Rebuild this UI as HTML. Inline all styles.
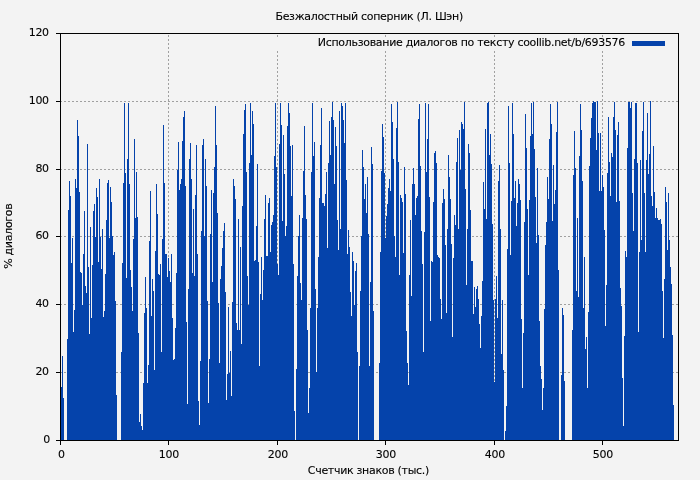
<!DOCTYPE html>
<html lang="ru"><head><meta charset="utf-8"><title>Безжалостный соперник (Л. Шэн)</title>
<style>html,body{margin:0;padding:0;background:#f3f3f3}body{width:700px;height:480px;overflow:hidden}svg{display:block}text{font-family:"DejaVu Sans","Liberation Sans",sans-serif;font-size:11px;fill:#000;letter-spacing:-0.3px;stroke:#000;stroke-width:0.1px}</style></head><body>
<svg width="700" height="480" viewBox="0 0 700 480">
<rect width="700" height="480" fill="#f3f3f3"/>
<g stroke="#a0a0a0" stroke-width="1" stroke-dasharray="2,2" fill="none" shape-rendering="crispEdges">
<path d="M60 372.5H678"/>
<path d="M60 304.5H678"/>
<path d="M60 236.5H678"/>
<path d="M60 169.5H678"/>
<path d="M60 101.5H678"/>
<path d="M168.5 35V440"/>
<path d="M277.5 35V37M277.5 51V440"/>
<path d="M385.5 35V37M385.5 51V440"/>
<path d="M494.5 35V37M494.5 51V440"/>
<path d="M602.5 35V37M602.5 51V440"/>
</g>
<g fill="#0543ab" shape-rendering="crispEdges">
<path d="M61 386.9V440h1V386.9zM62 356V440h1V356zM63 397.7V440h1V397.7zM67 338.8V440h1V338.8zM68 210.1V440h1V210.1zM69 180.9V440h1V180.9zM70 196.2V440h1V196.2zM71 262.9V440h1V262.9zM72 238V440h1V238zM73 331.6V440h1V331.6zM74 310V440h1V310zM75 178.9V440h1V178.9zM76 188.1V440h1V188.1zM77 119.8V440h1V119.8zM78 136.1V440h1V136.1zM79 192.1V440h1V192.1zM80 271.9V440h1V271.9zM81 273.1V440h1V273.1zM82 305V440h1V305zM83 254V440h1V254zM84 211V440h1V211zM85 286.3V440h1V286.3zM86 292.8V440h1V292.8zM87 144V440h1V144zM88 266.9V440h1V266.9zM89 333.7V440h1V333.7zM90 226.9V440h1V226.9zM91 317.6V440h1V317.6zM92 264.7V440h1V264.7zM93 211V440h1V211zM94 204.1V440h1V204.1zM95 237V440h1V237zM96 188V440h1V188zM97 197.2V440h1V197.2zM98 261.9V440h1V261.9zM99 179.1V440h1V179.1zM100 236.7V440h1V236.7zM101 269V440h1V269zM102 229.1V440h1V229.1zM103 316.5V440h1V316.5zM104 310.7V440h1V310.7zM105 274.1V440h1V274.1zM106 220V440h1V220zM107 182.9V440h1V182.9zM108 180.1V440h1V180.1zM109 238.4V440h1V238.4zM110 187V440h1V187zM111 201.9V440h1V201.9zM112 236V440h1V236zM113 254.5V440h1V254.5zM114 251.9V440h1V251.9zM115 300.7V440h1V300.7zM116 394.8V440h1V394.8zM121 351.7V440h1V351.7zM122 262.9V440h1V262.9zM123 182.9V440h1V182.9zM124 103V440h1V103zM125 173V440h1V173zM126 277.7V440h1V277.7zM127 159.1V440h1V159.1z"/>
<path d="M128 103V440h1V103zM129 184.2V440h1V184.2zM130 270.1V440h1V270.1zM131 287V440h1V287zM132 310.7V440h1V310.7zM133 238.9V440h1V238.9zM134 138.9V440h1V138.9zM135 217.9V440h1V217.9zM136 172V440h1V172zM137 217V440h1V217zM138 333V440h1V333zM139 422.1V440h1V422.1zM140 414.2V440h1V414.2zM141 426.4V440h1V426.4zM142 430V440h1V430zM143 383.3V440h1V383.3zM144 312.9V440h1V312.9zM145 276.9V440h1V276.9zM146 307.9V440h1V307.9zM147 382.6V440h1V382.6zM148 364.6V440h1V364.6zM149 241V440h1V241zM150 191V440h1V191zM151 315.8V440h1V315.8zM152 279.1V440h1V279.1zM153 290.6V440h1V290.6zM154 370.4V440h1V370.4zM155 251.1V440h1V251.1zM156 184V440h1V184zM157 214V440h1V214zM158 274.1V440h1V274.1zM159 274.8V440h1V274.8zM160 264V440h1V264zM161 351.7V440h1V351.7zM162 238.9V440h1V238.9zM163 125V440h1V125zM164 182.8V440h1V182.8zM165 254V440h1V254zM166 254V440h1V254zM167 276.9V440h1V276.9zM168 257.6V440h1V257.6zM169 270.5V440h1V270.5zM170 282V440h1V282zM171 254V440h1V254zM172 317.9V440h1V317.9zM173 360.3V440h1V360.3zM174 358.9V440h1V358.9zM175 327.7V440h1V327.7zM176 273.1V440h1V273.1zM177 169.9V440h1V169.9zM178 142V440h1V142zM179 190V440h1V190zM180 184.2V440h1V184.2zM181 179.2V440h1V179.2zM182 140.8V440h1V140.8zM183 117V440h1V117zM184 110.9V440h1V110.9zM185 186V440h1V186zM186 322V440h1V322zM187 403.9V440h1V403.9z"/>
<path d="M188 289.2V440h1V289.2zM189 159.1V440h1V159.1zM190 143V440h1V143zM191 179.2V440h1V179.2zM192 273.1V440h1V273.1zM193 209V440h1V209zM194 275.9V440h1V275.9zM195 195V440h1V195zM196 144.7V440h1V144.7zM197 254V440h1V254zM198 400.9V440h1V400.9zM199 424.6V440h1V424.6zM200 360.7V440h1V360.7zM201 230.9V440h1V230.9zM202 145V440h1V145zM203 138.9V440h1V138.9zM204 236V440h1V236zM205 159.1V440h1V159.1zM206 186V440h1V186zM207 300.7V440h1V300.7zM208 402.7V440h1V402.7zM209 358.9V440h1V358.9zM210 233.8V440h1V233.8zM211 190V440h1V190zM212 282V440h1V282zM213 193.1V440h1V193.1zM214 167V440h1V167zM215 105.9V440h1V105.9zM216 145V440h1V145zM217 213V440h1V213zM218 302.8V440h1V302.8zM219 362.8V440h1V362.8zM220 278.8V440h1V278.8zM221 265.5V440h1V265.5zM222 248.2V440h1V248.2zM223 230.9V440h1V230.9zM224 223V440h1V223zM225 292V440h1V292zM226 399.9V440h1V399.9zM227 374V440h1V374zM228 307.2V440h1V307.2zM229 372.5V440h1V372.5zM230 351V440h1V351zM231 395.6V440h1V395.6zM232 302.1V440h1V302.1zM233 179.2V440h1V179.2zM234 186V440h1V186zM235 198.9V440h1V198.9zM236 323V440h1V323zM237 329.7V440h1V329.7zM238 219V440h1V219zM239 329.7V440h1V329.7zM240 247.2V440h1V247.2zM241 343.8V440h1V343.8zM242 205.8V440h1V205.8zM243 133.9V440h1V133.9zM244 110.2V440h1V110.2zM245 104V440h1V104zM246 172V440h1V172zM247 275.9V440h1V275.9z"/>
<path d="M248 305V440h1V305zM249 162.9V440h1V162.9zM250 103V440h1V103zM251 154.8V440h1V154.8zM252 110.9V440h1V110.9zM253 124.1V440h1V124.1zM254 260.7V440h1V260.7zM255 259.7V440h1V259.7zM256 225.9V440h1V225.9zM257 164.1V440h1V164.1zM258 261.9V440h1V261.9zM259 365.6V440h1V365.6zM260 293.9V440h1V293.9zM261 256.8V440h1V256.8zM262 299.9V440h1V299.9zM263 269.8V440h1V269.8zM264 219V440h1V219zM265 195V440h1V195zM266 256.1V440h1V256.1zM267 256.1V440h1V256.1zM268 202.9V440h1V202.9zM269 197.9V440h1V197.9zM270 251.8V440h1V251.8zM271 224.9V440h1V224.9zM272 222V440h1V222zM273 215.1V440h1V215.1zM274 155.9V440h1V155.9zM275 103V440h1V103zM276 167V440h1V167zM277 264V440h1V264zM278 274.8V440h1V274.8zM279 144V440h1V144zM280 103V440h1V103zM281 125V440h1V125zM282 220.9V440h1V220.9zM283 135.1V440h1V135.1zM284 174.2V440h1V174.2zM285 236V440h1V236zM286 225.9V440h1V225.9zM287 126V440h1V126zM288 103V440h1V103zM289 113.1V440h1V113.1zM290 146.1V440h1V146.1zM291 196V440h1V196zM292 145V440h1V145zM293 264V440h1V264zM294 411.1V440h1V411.1zM296 368.9V440h1V368.9zM297 275.9V440h1V275.9zM298 236V440h1V236zM299 215.1V440h1V215.1zM300 282.7V440h1V282.7zM301 299.9V440h1V299.9zM302 218V440h1V218zM303 171.3V440h1V171.3zM304 126V440h1V126zM305 195V440h1V195zM306 219V440h1V219zM307 329.7V440h1V329.7zM308 412.8V440h1V412.8z"/>
<path d="M309 388.4V440h1V388.4zM310 307.9V440h1V307.9zM311 172V440h1V172zM312 103V440h1V103zM313 155.9V440h1V155.9zM314 142V440h1V142zM315 288.9V440h1V288.9zM316 371.8V440h1V371.8zM317 307.9V440h1V307.9zM318 256.8V440h1V256.8zM319 197.9V440h1V197.9zM320 145V440h1V145zM321 108.1V440h1V108.1zM322 202.9V440h1V202.9zM323 202.9V440h1V202.9zM324 205.8V440h1V205.8zM325 194V440h1V194zM326 172V440h1V172zM327 247.9V440h1V247.9zM328 162.9V440h1V162.9zM329 121V440h1V121zM330 155V440h1V155zM331 117V440h1V117zM332 102V440h1V102zM333 120V440h1V120zM334 184V440h1V184zM335 127V440h1V127zM336 146.1V440h1V146.1zM337 220V440h1V220zM338 249.9V440h1V249.9zM339 110.9V440h1V110.9zM340 228.8V440h1V228.8zM341 103V440h1V103zM342 105.9V440h1V105.9zM343 120V440h1V120zM344 143V440h1V143zM345 103V440h1V103zM346 179.9V440h1V179.9zM347 254V440h1V254zM348 229.9V440h1V229.9zM349 246.8V440h1V246.8zM350 292V440h1V292zM351 315.8V440h1V315.8zM352 251.8V440h1V251.8zM353 261.1V440h1V261.1zM354 305V440h1V305zM355 270.9V440h1V270.9zM356 263V440h1V263zM357 351.7V440h1V351.7zM359 366V440h1V366zM360 290.6V440h1V290.6zM361 236V440h1V236zM362 150V440h1V150zM363 166.7V440h1V166.7zM364 198.9V440h1V198.9zM365 184V440h1V184zM366 213V440h1V213zM367 177.1V440h1V177.1zM368 233.8V440h1V233.8zM369 366.1V440h1V366.1z"/>
<path d="M370 282V440h1V282zM371 147V440h1V147zM372 164.1V440h1V164.1zM373 310.7V440h1V310.7zM379 362.5V440h1V362.5zM380 251.8V440h1V251.8zM381 171V440h1V171zM382 124V440h1V124zM383 136.8V440h1V136.8zM384 173V440h1V173zM385 237.7V440h1V237.7zM386 215.9V440h1V215.9zM387 204.1V440h1V204.1zM388 188V440h1V188zM389 178.9V440h1V178.9zM390 191V440h1V191zM391 104V440h1V104zM392 122V440h1V122zM393 159.1V440h1V159.1zM394 236V440h1V236zM395 256.8V440h1V256.8zM396 127.9V440h1V127.9zM397 102V440h1V102zM398 161.9V440h1V161.9zM399 274.8V440h1V274.8zM400 195V440h1V195zM401 197.9V440h1V197.9zM402 201.9V440h1V201.9zM403 253V440h1V253zM404 167V440h1V167zM405 194V440h1V194zM406 330.9V440h1V330.9zM407 363.2V440h1V363.2zM408 384.8V440h1V384.8zM409 274.8V440h1V274.8zM410 220V440h1V220zM411 295.6V440h1V295.6zM412 184V440h1V184zM413 168V440h1V168zM414 184V440h1V184zM415 215.1V440h1V215.1zM416 197.9V440h1V197.9zM417 196V440h1V196zM418 119V440h1V119zM419 104V440h1V104zM420 166V440h1V166zM421 230.9V440h1V230.9zM422 264V440h1V264zM423 351.7V440h1V351.7zM424 231.9V440h1V231.9zM425 103V440h1V103zM426 172V440h1V172zM427 138.9V440h1V138.9zM428 104V440h1V104zM429 196.9V440h1V196.9zM430 320.8V440h1V320.8zM431 261.1V440h1V261.1zM432 261.9V440h1V261.9zM433 201.9V440h1V201.9zM434 153V440h1V153z"/>
<path d="M435 151V440h1V151zM436 162.9V440h1V162.9zM437 254.7V440h1V254.7zM438 256.8V440h1V256.8zM439 257.6V440h1V257.6zM440 299.2V440h1V299.2zM441 318.9V440h1V318.9zM442 202.9V440h1V202.9zM443 189V440h1V189zM444 198.9V440h1V198.9zM445 244.9V440h1V244.9zM446 312.9V440h1V312.9zM447 229.1V440h1V229.1zM448 155V440h1V155zM449 177.1V440h1V177.1zM450 198.9V440h1V198.9zM451 243.9V440h1V243.9zM452 336.9V440h1V336.9zM453 257.6V440h1V257.6zM454 215.1V440h1V215.1zM455 224.9V440h1V224.9zM456 161.9V440h1V161.9zM457 137.9V440h1V137.9zM458 229.1V440h1V229.1zM459 129.9V440h1V129.9zM460 170V440h1V170zM461 122V440h1V122zM462 124V440h1V124zM463 128.9V440h1V128.9zM464 102V440h1V102zM465 189V440h1V189zM466 284.9V440h1V284.9zM467 229.1V440h1V229.1zM468 144V440h1V144zM469 153V440h1V153zM470 210V440h1V210zM471 260.7V440h1V260.7zM472 260.7V440h1V260.7zM473 313.9V440h1V313.9zM474 287V440h1V287zM475 306.7V440h1V306.7zM476 289.2V440h1V289.2zM477 286V440h1V286zM478 298.5V440h1V298.5zM479 324.4V440h1V324.4zM480 347.8V440h1V347.8zM481 315.8V440h1V315.8zM482 281V440h1V281zM483 181.9V440h1V181.9zM484 209V440h1V209zM485 128.9V440h1V128.9zM486 219V440h1V219zM487 103V440h1V103zM488 102V440h1V102zM489 155V440h1V155zM490 133.9V440h1V133.9zM491 164.1V440h1V164.1zM492 224V440h1V224zM493 299.9V440h1V299.9zM494 381.9V440h1V381.9z"/>
<path d="M495 299.2V440h1V299.2zM496 275.9V440h1V275.9zM497 317.9V440h1V317.9zM498 180.9V440h1V180.9zM499 164.8V440h1V164.8zM500 229.1V440h1V229.1zM501 353.9V440h1V353.9zM502 299.9V440h1V299.9zM503 369.7V440h1V369.7zM505 430.8V440h1V430.8zM506 405.9V440h1V405.9zM507 248.9V440h1V248.9zM508 105.9V440h1V105.9zM509 162.9V440h1V162.9zM510 254.7V440h1V254.7zM511 200.9V440h1V200.9zM512 103V440h1V103zM513 133.9V440h1V133.9zM514 197.9V440h1V197.9zM515 180.9V440h1V180.9zM516 225.9V440h1V225.9zM517 202.9V440h1V202.9zM518 178.9V440h1V178.9zM519 184V440h1V184zM520 199.9V440h1V199.9zM521 319.4V440h1V319.4zM522 387.9V440h1V387.9zM523 333V440h1V333zM524 222V440h1V222zM525 113.8V440h1V113.8zM526 148V440h1V148zM527 209V440h1V209zM528 274.8V440h1V274.8zM529 199.9V440h1V199.9zM530 136.1V440h1V136.1zM531 103V440h1V103zM532 133.9V440h1V133.9zM533 102V440h1V102zM534 149V440h1V149zM535 196.9V440h1V196.9zM536 242.9V440h1V242.9zM537 168V440h1V168zM538 235V440h1V235zM539 320.8V440h1V320.8zM540 366.1V440h1V366.1zM541 379V440h1V379zM542 409.9V440h1V409.9zM543 388.4V440h1V388.4zM544 308.6V440h1V308.6zM545 244.9V440h1V244.9zM546 222V440h1V222zM547 177.1V440h1V177.1zM548 198.9V440h1V198.9zM549 138.9V440h1V138.9zM550 104V440h1V104zM551 124V440h1V124zM552 221V440h1V221zM553 164.8V440h1V164.8zM554 204.1V440h1V204.1zM555 190V440h1V190z"/>
<path d="M556 131.9V440h1V131.9zM557 102V440h1V102zM558 270V440h1V270zM561 374.7V440h1V374.7zM562 307.9V440h1V307.9zM563 315.1V440h1V315.1zM564 380.5V440h1V380.5zM572 329.7V440h1V329.7zM573 174.9V440h1V174.9zM574 130.9V440h1V130.9zM575 168V440h1V168zM576 290.6V440h1V290.6zM577 218V440h1V218zM578 297.1V440h1V297.1zM579 155.9V440h1V155.9zM580 104V440h1V104zM581 129.9V440h1V129.9zM582 180.9V440h1V180.9zM583 307.9V440h1V307.9zM584 256.8V440h1V256.8zM585 348.8V440h1V348.8zM586 336.9V440h1V336.9zM587 388.4V440h1V388.4zM588 311.9V440h1V311.9zM589 166V440h1V166zM590 137.9V440h1V137.9zM591 118V440h1V118zM592 103V440h1V103zM593 101V440h1V101zM594 102V440h1V102zM595 102V440h1V102zM596 150V440h1V150zM597 101V440h1V101zM598 132.9V440h1V132.9zM599 191V440h1V191zM600 132.9V440h1V132.9zM601 190.7V440h1V190.7zM602 174.9V440h1V174.9zM603 187V440h1V187zM604 229.9V440h1V229.9zM605 325.8V440h1V325.8zM606 284.9V440h1V284.9zM607 173V440h1V173zM608 117V440h1V117zM609 161.9V440h1V161.9zM610 196V440h1V196zM611 153V440h1V153zM612 156.9V440h1V156.9zM613 117V440h1V117zM614 102V440h1V102zM615 129.9V440h1V129.9zM616 201.9V440h1V201.9zM617 135.1V440h1V135.1zM618 122V440h1V122zM619 200.9V440h1V200.9zM620 287.7V440h1V287.7zM621 306.4V440h1V306.4zM622 377.6V440h1V377.6zM623 426.4V440h1V426.4zM624 335.9V440h1V335.9z"/>
<path d="M625 250.9V440h1V250.9zM626 256.8V440h1V256.8zM627 148V440h1V148zM628 102V440h1V102zM629 102V440h1V102zM630 108.1V440h1V108.1zM631 102V440h1V102zM632 193V440h1V193zM633 230.9V440h1V230.9zM634 159.1V440h1V159.1zM635 103V440h1V103zM636 103V440h1V103zM637 162.9V440h1V162.9zM638 332V440h1V332zM639 251.8V440h1V251.8zM640 160.1V440h1V160.1zM641 240V440h1V240zM642 130.9V440h1V130.9zM643 102V440h1V102zM644 193V440h1V193zM645 251.8V440h1V251.8zM646 160.1V440h1V160.1zM647 112.9V440h1V112.9zM648 173.9V440h1V173.9zM649 154V440h1V154zM650 101V440h1V101zM651 196V440h1V196zM652 205.8V440h1V205.8zM653 146.1V440h1V146.1zM654 192V440h1V192zM655 218V440h1V218zM656 207.9V440h1V207.9zM657 218V440h1V218zM658 220V440h1V220zM659 220V440h1V220zM660 219V440h1V219zM661 224V440h1V224zM662 290.6V440h1V290.6zM663 338V440h1V338zM664 279V440h1V279zM665 187V440h1V187zM666 201.9V440h1V201.9zM667 249.9V440h1V249.9zM668 193V440h1V193zM669 240V440h1V240zM670 266.9V440h1V266.9zM671 284.1V440h1V284.1zM672 334.9V440h1V334.9zM673 404.9V440h1V404.9z"/>
</g>
<rect x="632" y="41" width="33" height="5" fill="#0543ab" shape-rendering="crispEdges"/>
<g stroke="#000" stroke-width="1" fill="none" shape-rendering="crispEdges">
<path d="M60.5 33.5H678.5V440.5H60.5z"/>
<path d="M56 440.5H60"/>
<path d="M56 372.5H60"/>
<path d="M56 304.5H60"/>
<path d="M56 236.5H60"/>
<path d="M56 169.5H60"/>
<path d="M56 101.5H60"/>
<path d="M56 33.5H60"/>
<path d="M60.5 441V445"/>
<path d="M168.5 441V445"/>
<path d="M277.5 441V445"/>
<path d="M385.5 441V445"/>
<path d="M494.5 441V445"/>
<path d="M602.5 441V445"/>
</g>
<text x="50.0" y="443.0" text-anchor="end">0</text>
<text x="48.8" y="375.0" text-anchor="end">20</text>
<text x="48.8" y="307.0" text-anchor="end">40</text>
<text x="48.8" y="239.0" text-anchor="end">60</text>
<text x="48.8" y="172.0" text-anchor="end">80</text>
<text x="48.8" y="104.0" text-anchor="end">100</text>
<text x="48.8" y="36.0" text-anchor="end">120</text>
<text x="61.4" y="458" text-anchor="middle">0</text>
<text x="168.8" y="458" text-anchor="middle">100</text>
<text x="277.8" y="458" text-anchor="middle">200</text>
<text x="385.8" y="458" text-anchor="middle">300</text>
<text x="494.8" y="458" text-anchor="middle">400</text>
<text x="602.8" y="458" text-anchor="middle">500</text>
<text x="369.2" y="20.3" text-anchor="middle">Безжалостный соперник (Л. Шэн)</text>
<text x="625" y="46" text-anchor="end">Использование диалогов по тексту coollib.net/b/693576</text>
<text x="368.4" y="474" text-anchor="middle">Счетчик знаков (тыс.)</text>
<text transform="translate(12.3 236.2) rotate(-90)" text-anchor="middle">% диалогов</text>
</svg></body></html>
